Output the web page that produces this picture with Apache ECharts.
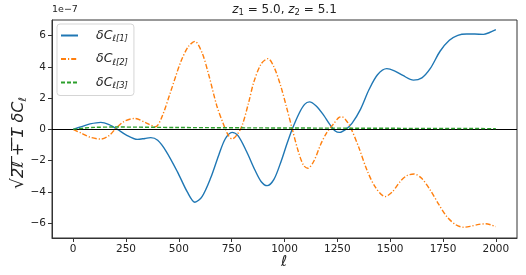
<!DOCTYPE html>
<html><head><meta charset="utf-8">
<script src="https://cdn.jsdelivr.net/npm/echarts@6/dist/echarts.min.js"></script>
<style>html,body{margin:0;padding:0;background:#fff}#c{width:526px;height:275px}</style>
</head><body><div id="c"></div>
<script>
// values in units of 1e-7
const blueEll = [0,40,80,131,170,210,250,304,340,367,400,440,493,540,576,610,650,690,720,752,780,820,860,890,918,950,985,1012,1036,1070,1095,1118,1150,1185,1215,1240,1261,1290,1320,1360,1400,1440,1484,1520,1560,1610,1650,1690,1736,1780,1820,1862,1900,1941,1970,2000];
const blueVal = [0,0.18,0.35,0.45,0.3,0,-0.35,-0.64,-0.58,-0.53,-0.7,-1.4,-2.7,-4.0,-4.66,-4.3,-3.13,-1.6,-0.6,-0.19,-0.4,-1.4,-2.6,-3.35,-3.6,-3.2,-2.0,-0.9,0,1.05,1.6,1.76,1.5,0.91,0.3,-0.1,-0.19,0.0,0.4,1.3,2.55,3.5,3.89,3.75,3.45,3.15,3.3,3.9,5.0,5.7,6.02,6.1,6.1,6.08,6.2,6.38];
const orangeEll = [0,40,80,131,170,202,240,291,340,390,420,461,509,545,576,610,642,680,713,735,752,775,800,830,855,890,922,950,981,1010,1036,1065,1090,1111,1140,1170,1200,1232,1260,1272,1290,1311,1350,1390,1430,1476,1510,1547,1580,1613,1650,1689,1730,1768,1810,1846,1880,1920,1950,1975,2000];
const orangeVal = [0,-0.25,-0.5,-0.62,-0.4,0.06,0.5,0.7,0.45,0.17,0.8,2.4,4.31,5.3,5.63,4.9,3.47,1.5,0.27,-0.4,-0.62,-0.35,0.27,1.7,3.04,4.2,4.53,4.0,2.83,1.4,0.06,-1.4,-2.3,-2.49,-2.0,-1.0,-0.2,0.35,0.78,0.8,0.6,0.17,-1.1,-2.6,-3.7,-4.3,-4.0,-3.34,-2.95,-2.85,-3.15,-3.87,-4.8,-5.58,-6.1,-6.26,-6.2,-6.08,-6.04,-6.1,-6.22];
const greenEll = [0,50,100,200,500,1000,1500,2000];
const greenVal = [0,0.08,0.13,0.15,0.12,0.09,0.07,0.05];
const xTicks = [0,250,500,750,1000,1250,1500,1750,2000];
const yTicks = [-6,-4,-2,0,2,4,6];
const seriesNames = ['δCℓ[1]','δCℓ[2]','δCℓ[3]'];
const seriesColors = ['#1f77b4','#ff7f0e','#2ca02c'];

const zip = (a,b) => a.map((v,i)=>[v,b[i]]);
const chart = echarts.init(document.getElementById('c'));
const F = 'DejaVu Sans';
const axisCommon = {
  axisLine:{show:true,onZero:false,lineStyle:{color:'#333',width:1}},
  axisTick:{show:true,inside:false,length:4,lineStyle:{color:'#333'}},
  splitLine:{show:false},
};
chart.setOption({
  animation:false,
  grid:{left:52,right:9,top:20,bottom:37,containLabel:false,show:true,borderColor:'#333',borderWidth:1,backgroundColor:'transparent'},
  xAxis:{type:'value',min:-100,max:2100,...axisCommon,
    axisTick:{...axisCommon.axisTick,customValues:xTicks},
    axisLabel:{customValues:xTicks,color:'#222',fontSize:10.5,fontFamily:F,margin:6,formatter:v=>String(v)}},
  yAxis:{type:'value',min:-6.95,max:7.0,...axisCommon,
    axisTick:{...axisCommon.axisTick,customValues:yTicks},
    axisLabel:{customValues:yTicks,color:'#222',fontSize:10.5,fontFamily:F,margin:6,
      formatter:v=> (v<0?'\u2212'+(-v):''+v)}},
  legend:{orient:'vertical',left:57,top:24,itemWidth:17,itemHeight:10,itemGap:9,
    padding:[5,6,5,3],borderColor:'#d5d5d5',borderWidth:1,borderRadius:3,
    backgroundColor:'rgba(255,255,255,0.8)',
    itemStyle:{opacity:0},
    data:seriesNames,
    formatter:n=>'{g|}{a|δC}{b|'+n.slice(2)+'}',
    textStyle:{rich:{
      g:{width:13},
      a:{fontSize:12.5,fontStyle:'italic',fontFamily:F,color:'#222'},
      b:{fontSize:8.5,fontStyle:'italic',fontFamily:F,color:'#222',padding:[7,0,0,0]}
    }}},
  graphic:[
    {type:'text',left:52,top:5,style:{text:'1e\u22127',font:'9.5px "DejaVu Sans"',fill:'#222'}},
    {type:'text',x:284.5,y:10,style:{
      text:'{i|z}{s|1}{n| = 5.0, }{i|z}{s|2}{n| = 5.1}',align:'center',verticalAlign:'middle',
      rich:{i:{fontSize:12,fontStyle:'italic',fontFamily:F,fill:'#222'},
        s:{fontSize:8.5,fontFamily:F,fill:'#222',padding:[6,0,0,0]},
        n:{fontSize:12,fontFamily:F,fill:'#222'}}}},
    {type:'text',x:284,y:262,style:{text:'ℓ',font:'italic 15px "DejaVu Sans"',fill:'#222',align:'center',verticalAlign:'middle'}},
    {type:'text',x:19,y:143,rotation:Math.PI/2,style:{
      text:'{r|√}{o|2̅ℓ̅ ̅+̅ ̅1̅}{a| δC}{b|ℓ}',align:'center',verticalAlign:'middle',
      rich:{r:{fontSize:17,fontFamily:F,fill:'#222'},
        o:{fontSize:16,fontStyle:'italic',fontFamily:F,fill:'#222'},
        a:{fontSize:16,fontStyle:'italic',fontFamily:F,fill:'#222'},
        b:{fontSize:10.5,fontStyle:'italic',fontFamily:F,fill:'#222',padding:[8,0,0,0]}}}}
  ],
  series:[
    {name:seriesNames[0],type:'line',data:zip(blueEll,blueVal),smooth:0.3,symbol:'none',
      lineStyle:{color:seriesColors[0],width:1.4},itemStyle:{color:seriesColors[0]},z:3,
      markLine:{silent:true,symbol:'none',label:{show:false},
        lineStyle:{color:'#000',width:1,type:'solid'},data:[{yAxis:0}]}},
    {name:seriesNames[1],type:'line',data:zip(orangeEll,orangeVal),smooth:0.3,symbol:'none',
      lineStyle:{color:seriesColors[1],width:1.4,type:[5,2,1.2,2]},itemStyle:{color:seriesColors[1]},z:4},
    {name:seriesNames[2],type:'line',data:zip(greenEll,greenVal),smooth:0.3,symbol:'none',
      lineStyle:{color:seriesColors[2],width:1.4,type:[4,2]},itemStyle:{color:seriesColors[2]},z:5}
  ]
});
</script></body></html>
